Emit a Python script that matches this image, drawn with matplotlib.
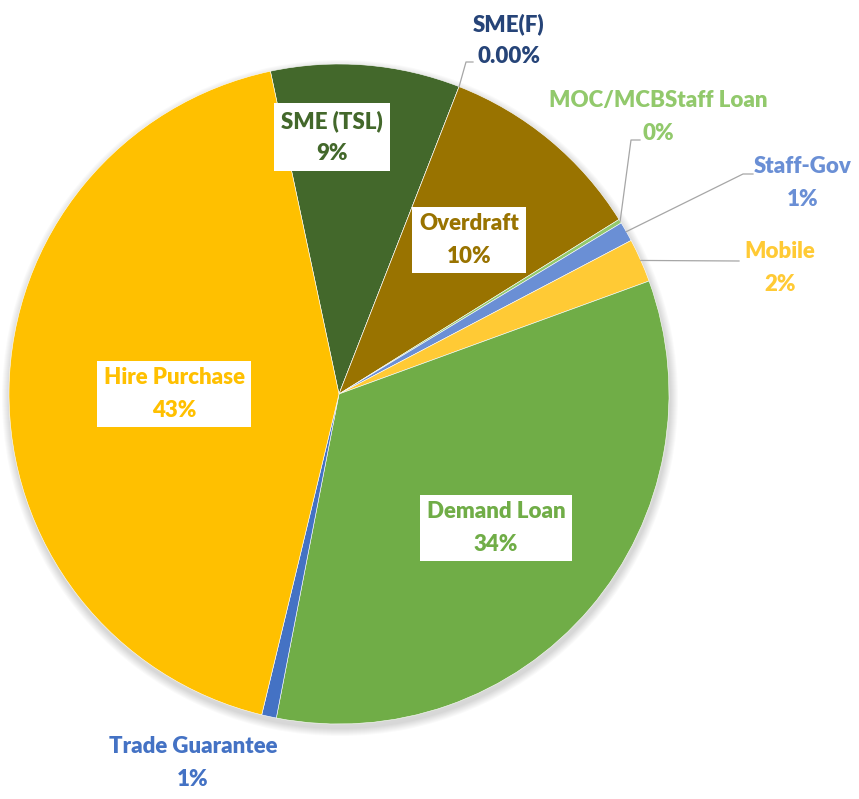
import numpy as np
import matplotlib.pyplot as plt
from matplotlib.patches import Circle

W, H = 859, 799

categories = ["SME (TSL)", "SME(F)", "Overdraft", "MOC/MCBStaff Loan", "Staff-Gov",
              "Mobile", "Demand Loan", "Trade Guarantee", "Hire Purchase"]
shares = [9.26, 0.0, 10.2, 0.2, 0.97, 2.14, 33.6, 0.72, 42.9]
decimals = [0, 2, 0, 0, 0, 0, 0, 0, 0]
colors = ["#43682B", "#264478", "#997300", "#92C96C", "#6A8FD5",
          "#FFCA35", "#70AD47", "#4472C4", "#FFC000"]

# pie geometry in pixel space (y measured from the top)
cx, cy, R = 339, 394, 330

# label placement, pixel space: text centre and leader elbow points
inside = {
    "SME (TSL)": (332, 137),
    "Overdraft": (469, 240),
    "Demand Loan": (496, 528),
    "Hire Purchase": (174, 394),
}
outside = {
    "SME(F)": ((509, 40), [(466, 62), (473, 62)]),
    "MOC/MCBStaff Loan": ((658, 117), [(631, 140), (640, 140)]),
    "Staff-Gov": ((803, 183), [(743, 174), (753, 174)]),
    "Mobile": ((780, 268), [(739, 261)]),
    "Trade Guarantee": ((193, 763), []),
}


def px(x, y):
    return x, H - y


plt.rcParams["font.family"] = ["Lato", "DejaVu Sans"]
fig = plt.figure(figsize=(W / 100, H / 100), dpi=100)
ax = fig.add_axes([0, 0, 1, 1])

# soft shadow under the pie
for k in range(8):
    ax.add_patch(Circle(px(cx + 1, cy + 4), R + 8 - k, color="black",
                        alpha=0.018, lw=0, zorder=0))

wedges, _ = ax.pie(shares, colors=colors, startangle=102.0, counterclock=False,
                   radius=R, center=px(cx, cy), frame=True,
                   wedgeprops=dict(linewidth=0.4, edgecolor="white"))
ax.set_xlim(0, W)
ax.set_ylim(0, H)
ax.set_aspect("equal")
ax.axis("off")

total = sum(shares)
for name, val, dec, col, w in zip(categories, shares, decimals, colors, wedges):
    pct = 100 * val / total
    text = f"{name}\n{pct:.{dec}f}%"
    if name in inside:
        ax.text(*px(*inside[name]), text, ha="center", va="center",
                ma="center", fontsize=16, fontweight="heavy", color=col,
                linespacing=1.65, zorder=5,
                bbox=dict(boxstyle="square,pad=0.3", fc="white", ec="none"))
    else:
        pos, elbow = outside[name]
        ax.text(*px(*pos), text, ha="center", va="center", ma="center",
                fontsize=16, fontweight="heavy", color=col,
                linespacing=1.65, zorder=5)
        if elbow:
            a = np.deg2rad((w.theta1 + w.theta2) / 2)
            sx, sy = px(cx, cy)
            pts = [(sx + R * np.cos(a), sy + R * np.sin(a))] + [px(*p) for p in elbow]
            xs, ys = zip(*pts)
            ax.plot(xs, ys, color="#A6A6A6", lw=0.9, zorder=4)

fig.savefig("out.png", dpi=100)
